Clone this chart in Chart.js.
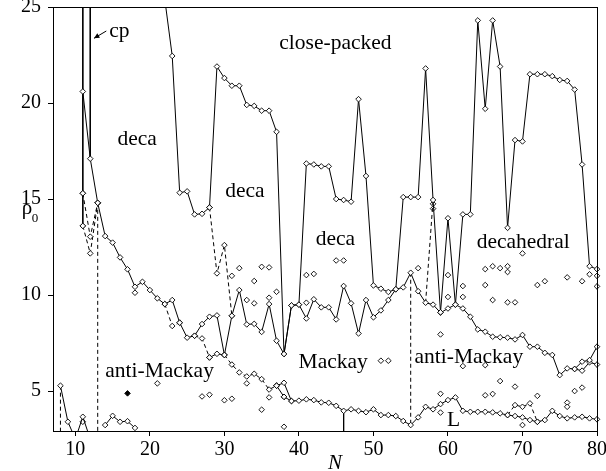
<!DOCTYPE html>
<html><head><meta charset="utf-8">
<script src="https://cdn.jsdelivr.net/npm/chart.js@4"></script>
<style>html,body{margin:0;padding:0;background:#fff}</style>
</head><body>
<canvas id="c" width="606" height="471"></canvas>
<script>
// ---- data (N, rho0) ----
const xTicks = [10,20,30,40,50,60,70,80];
const yTicks = [5,10,15,20,25];

const cpVertical11 = [[11,27],[11,20.6],[11,15.3],[11,13.6]];
const cpVertical12 = [[12,27],[12,17.1],[13,14.8]];
const cpLink = [[11,20.6],[12,17.1]];
const leftDashedA = [[11,15.3],[12,13.04],[13,14.8]];
const leftDashedB = [[11,13.6],[12,12.17],[13,14.8]];

const closePackedBoundary = [[22,25.4],[23,22.45],[24,15.33],[25,15.4],[26,14.2],[27,14.23],[28,14.56],
 [29,21.9],[30,21.3],[31,20.9],[32,20.9],[33,19.9],[34,19.85],[35,19.6],[36,19.6],[37,18.5],
 [38,6.93],[39,9.46],[40,9.5],[41,16.85],[42,16.8],[43,16.7],[44,16.7],[45,15.0],[46,14.95],[47,14.86],
 [48,20.2],[49,16.2],[50,10.5],[51,10.33],[52,10.16],[53,10.3],[54,15.1],[55,15.1],[56,15.1],
 [57,21.8],[58,14.95],[59,9.1],[60,14.0],[61,9.5],[62,14.2],[63,14.2],[64,24.3],[65,19.7],[66,24.3],
 [67,21.9],[68,13.5],[69,18.07],[70,18.0],[71,21.5],[72,21.5],[73,21.5],[74,21.4],[75,21.2],[76,21.15],
 [77,20.7],[78,16.8],[79,11.5],[80,11.35]];

const decaMackayBoundary = [[13,14.8],[14,13.07],[15,12.73],[16,11.96],[17,11.34],[18,10.43],[19,10.69],
 [20,10.26],[21,9.83],[22,9.53],[23,9.74],[24,8.56],[25,7.78],[26,7.88],[27,8.49],[28,8.87],[29,8.94],
 [30,6.88],[31,8.92],[32,10.26],[33,8.47],[34,8.5],[35,8.08],[36,9.53],[37,7.62],[38,6.93],[39,9.46],
 [40,9.5],[41,8.78],[42,9.78],[43,9.36],[44,9.36],[45,8.73],[46,10.47],[47,9.57],[48,8.0],[49,9.74],
 [50,8.84],[51,9.2],[52,9.74],[53,10.3],[54,10.4],[55,11.16],[56,10.2],[57,9.6],[58,9.5],[59,9.08],
 [60,9.3],[61,9.5],[62,9.3],[63,8.87],[64,8.21],[65,8.09],[66,7.83],[67,7.8],[68,7.78],[69,7.69],
 [70,7.92],[71,7.31],[72,7.31],[73,6.99],[74,6.88],[75,5.83],[76,6.18],[77,6.15],[78,6.53],[79,6.61],[80,7.31]];
const decaSideDashed = [[22,9.53],[23,8.39],[24,8.56]];
const upperDashed = [[28,14.56],[29,11.13],[30,12.6],[31,8.92]];
const dashed57 = [[57,9.6],[58,14.95]];
const tailBranch = [[77,6.15],[78,6.06],[79,6.5],[80,6.38]];

const mackayDashedA = [[26,7.88],[27,7.74],[28,6.75]];
const mackaySolidA = [[28,6.75],[29,6.94],[30,6.88]];
const mackayDashedB = [[30,6.88],[31,6.38],[32,5.97],[33,5.76],[34,5.9],[35,5.62],[36,5.08],[37,5.28]];
const lowerBoundary = [[37,5.28],[38,5.43],[39,4.48],[40,4.5],[41,4.57],[42,4.53],[43,4.41],[44,4.39],
 [45,4.23],[46,3.97],[47,4.05],[48,3.97],[49,3.9],[50,4.05],[51,3.75],[52,3.75],[53,3.7],[54,3.44],
 [55,3.23],[56,3.63],[57,4.18],[58,4.05],[59,4.32],[60,4.53],[61,4.67],[62,3.97],[63,3.92],[64,3.92],
 [65,3.92],[66,3.89],[67,3.84],[68,3.75],[69,3.7],[70,3.63],[71,3.49],[72,3.4],[73,3.49],[74,3.97],
 [75,3.7],[76,3.58],[77,3.63],[78,3.66],[79,3.58],[80,3.53]];
const lowerBranch = [[37,5.28],[38,4.7],[39,4.48]];
const lowerRightDashed = [[68,3.75],[69,4.27],[70,4.18],[71,4.36],[72,3.4]];

const smallLeftA = [[8,5.28],[9,3.4],[10,2.5],[11,3.66],[12,2.5]];
const smallLeftB = [[14,3.23],[15,3.71],[16,3.4],[17,3.43],[18,3.08]];

const dashedVerticals = [[[8,5.28],[8,2]],[[13,14.8],[13,2]],[[55,11.16],[55,3.23]]];
const solidVerticals = [[[46,3.97],[46,2]]];

const otherMinima = [[11,3.4],[18,10.12],[33,5.4],[36,4.67],[21,5.4],[27,4.72],[28,4.81],[30,4.52],[31,4.6],
 [35,4.03],[38,3.14],[31,11.0],[32,11.4],[34,10.73],[35,11.47],[36,11.44],[37,10.17],[33,9.74],[34,9.57],
 [36,9.86],[41,11.04],[42,11.1],[45,11.8],[46,11.8],[41,9.6],[51,6.58],[52,6.58],[56,11.4],[58,14.75],
 [58,14.5],[60,11.04],[60,9.9],[62,10.47],[62,9.9],[59,7.95],[59,4.86],[59,3.88],[62,6.3],[65,11.35],
 [66,11.5],[67,11.4],[68,11.5],[68,11.2],[70,12.17],[65,10.52],[66,9.74],[68,9.62],[69,9.62],[72,10.52],
 [73,10.72],[76,10.92],[78,10.72],[79,11.08],[80,11.0],[80,10.45],[65,6.35],[65,4.78],[66,4.85],[67,5.52],
 [69,5.23],[72,4.75],[76,4.4],[76,4.18],[77,5.0],[78,5.18],[70,3.23]];
const boldMinima = [[17,4.88],[38,4.7]];

const regionLabels = [
 {text:'close-packed', n:44.9, r:23.1},
 {text:'deca', n:18.3, r:18.1},
 {text:'deca', n:32.75, r:15.4},
 {text:'deca', n:44.9, r:12.9},
 {text:'decahedral', n:70.1, r:12.75},
 {text:'anti-Mackay', n:21.3, r:6.05},
 {text:'Mackay', n:44.6, r:6.5},
 {text:'anti-Mackay', n:62.8, r:6.75},
 {text:'L', n:60.75, r:3.5},
 {text:'cp', n:15.9, r:23.75}
];

// ---- build datasets ----
const toXY = a => a.map(([x,y]) => ({x, y}));
const CLIP = {left:6, right:6, top:0, bottom:0};
function series(arr, opt = {}) {
  return {
    data: toXY(arr), showLine: opt.line !== false, borderColor:'#000', borderWidth:1,
    borderDash: opt.dash || [], pointRadius: opt.marks === false ? 0 : 2.8, pointHoverRadius: 0,
    pointStyle:'rectRot', pointBackgroundColor: opt.fill || '#fff', pointBorderColor:'#000',
    pointBorderWidth: 0.9, tension:0, clip: CLIP
  };
}
const D = [4,3];
const datasets = [
  series(cpVertical11), series(cpVertical12), series(cpLink, {marks:false}),
  series(leftDashedA, {dash:D}), series(leftDashedB, {dash:D}),
  series(closePackedBoundary), series(decaMackayBoundary),
  series(decaSideDashed, {dash:D}), series(upperDashed, {dash:D}), series(dashed57, {dash:D, marks:false}),
  series(tailBranch),
  series(mackayDashedA, {dash:D}), series(mackaySolidA), series(mackayDashedB, {dash:D}),
  series(lowerBoundary), series(lowerBranch), series(lowerRightDashed, {dash:D}),
  series(smallLeftA), series(smallLeftB),
  ...dashedVerticals.map(v => series(v, {dash:D, marks:false})),
  ...solidVerticals.map(v => series(v, {marks:false})),
  series(otherMinima, {line:false}),
  series(boldMinima, {line:false, fill:'#000'})
];

const SERIF = "'Liberation Serif','DejaVu Serif',serif";
const textPlugin = {
  id:'texts',
  afterDraw(chart) {
    const {ctx, chartArea:a, scales:{x, y}} = chart;
    ctx.save();
    ctx.strokeStyle = '#000'; ctx.lineWidth = 1;
    ctx.strokeRect(Math.round(a.left)+0.5, Math.round(a.top)+0.5, Math.round(a.right-a.left), Math.round(a.bottom-a.top));
    ctx.fillStyle = '#000';
    ctx.textAlign = 'center'; ctx.textBaseline = 'middle';
    ctx.font = '21.5px ' + SERIF;
    regionLabels.forEach(l => ctx.fillText(l.text, x.getPixelForValue(l.n), y.getPixelForValue(l.r)));
    // arrow for cp
    const x0 = x.getPixelForValue(14.15), y0 = y.getPixelForValue(23.75);
    const x1 = x.getPixelForValue(12.5), y1 = y.getPixelForValue(23.37);
    ctx.beginPath(); ctx.moveTo(x0, y0); ctx.lineTo(x1, y1); ctx.stroke();
    const ang = Math.atan2(y1-y0, x1-x0);
    ctx.beginPath();
    ctx.moveTo(x1, y1);
    ctx.lineTo(x1 - 6*Math.cos(ang-0.45), y1 - 6*Math.sin(ang-0.45));
    ctx.lineTo(x1 - 6*Math.cos(ang+0.45), y1 - 6*Math.sin(ang+0.45));
    ctx.closePath(); ctx.fill();
    // axis titles
    ctx.font = 'italic 21px ' + SERIF;
    ctx.textBaseline = 'alphabetic';
    ctx.fillText('N', (a.left + a.right)/2 + 10, 469);
    ctx.font = '21px ' + SERIF;
    ctx.fillText('ρ', 27, 214);
    ctx.font = '13px ' + SERIF;
    ctx.fillText('0', 35, 222);
    ctx.restore();
  }
};

new Chart(document.getElementById('c'), {
  type:'scatter',
  data:{datasets},
  plugins:[textPlugin],
  options:{
    responsive:false, animation:false, devicePixelRatio:1,
    layout:{padding:{left:0, top:7, right:9, bottom:0}},
    plugins:{legend:{display:false}, tooltip:{enabled:false}},
    scales:{
      x:{type:'linear', min:7, max:80,
        afterBuildTicks: s => { s.ticks = xTicks.map(v => ({value:v})); },
        afterFit: s => { s.height = 40; s.paddingLeft = 0; s.paddingRight = 0; },
        ticks:{color:'#000', font:{family:SERIF, size:20}, padding:2, maxRotation:0, autoSkip:false},
        grid:{drawOnChartArea:false, drawTicks:true, tickLength:5, color:'#000', lineWidth:1},
        border:{color:'#000', width:1}},
      y:{type:'linear', min:2.92, max:25,
        afterBuildTicks: s => { s.ticks = yTicks.map(v => ({value:v})); },
        afterFit: s => { s.width = 53; s.paddingTop = 0; s.paddingBottom = 0; },
        ticks:{color:'#000', font:{family:SERIF, size:20}, padding:7, autoSkip:false},
        grid:{drawOnChartArea:false, drawTicks:true, tickLength:5, color:'#000', lineWidth:1},
        border:{color:'#000', width:1}}
    }
  }
});
</script>
</body></html>
